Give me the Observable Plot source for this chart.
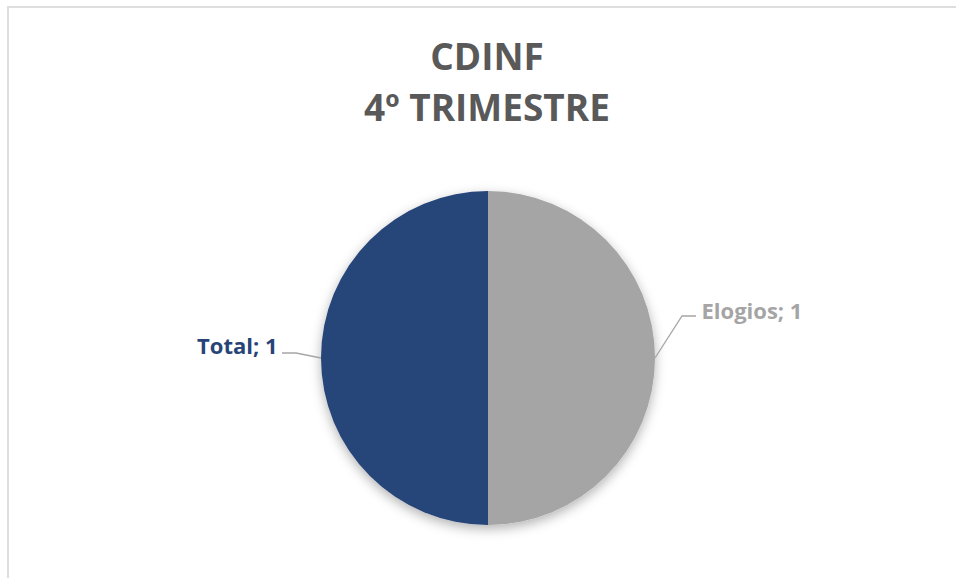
<!DOCTYPE html>
<html>
<head>
<meta charset="utf-8">
<script src="https://cdn.jsdelivr.net/npm/d3@7"></script>
<script src="https://cdn.jsdelivr.net/npm/@observablehq/plot@0.6"></script>
<style>
  html, body { margin: 0; padding: 0; background: #fff; }
  #wrap { position: relative; width: 956px; height: 578px; overflow: hidden; font-family: "Open Sans", sans-serif; }
  #frame { position: absolute; left: 7px; top: 6px; width: 1000px; height: 1000px; border: 2px solid #dedede; box-sizing: border-box; }
  #title { position: absolute; left: 0; top: 30px; width: 974px; text-align: center; color: #595959; font-weight: bold; font-size: 37px; line-height: 51px; }
  #chart { position: absolute; left: 0; top: 0; }
</style>
</head>
<body>
<div id="wrap">
  <div id="frame"></div>
  <div id="title">CDINF<br>4º TRIMESTRE</div>
  <div id="chart"></div>
</div>
<script>
const categories = ["Elogios", "Total"];
const values = [1, 1];
const colors = ["#a5a5a5", "#264478"];

const rows = categories.map((c, i) => ({cat: c, value: values[i]}));
const arcs = d3.pie().sort(null).value(d => d.value)(rows);
arcs.forEach(a => { a.data.mid = (a.startAngle + a.endAngle) / 2; });

const pieMark = (index, scales) => {
  const cx = scales.x(0), cy = scales.y(0), r = scales.x(1) - scales.x(0);
  const g = d3.create("svg:g");
  const defs = g.append("defs");
  const f = defs.append("filter").attr("id", "pieShadow").attr("x", "-20%").attr("y", "-20%").attr("width", "140%").attr("height", "140%");
  f.append("feDropShadow").attr("dx", 0).attr("dy", 4).attr("stdDeviation", 6).attr("flood-color", "#000").attr("flood-opacity", 0.3);
  const pg = g.append("g").attr("transform", `translate(${cx},${cy})`).attr("filter", "url(#pieShadow)");
  pg.selectAll("path").data(arcs).join("path")
    .attr("d", d3.arc().innerRadius(0).outerRadius(r))
    .attr("fill", d => scales.color(d.data.cat));
  // leader lines
  const lg = g.append("g").attr("fill", "none").attr("stroke", "#a6a6a6").attr("stroke-width", 1.3);
  arcs.forEach(a => {
    const ax = scales.x(Math.sin(a.data.mid)), ay = scales.y(Math.cos(a.data.mid));
    const right = Math.sin(a.data.mid) > 0;
    const d = right ? `M${ax},${ay}l27,-42h14` : `M${ax},${ay}l-25,-5h-14`;
    lg.append("path").attr("d", d);
  });
  return g.node();
};

const labelOpts = (side) => ({
  x: d => Math.sin(d.mid),
  y: d => Math.cos(d.mid),
  text: d => `${d.cat}; ${d.value}`,
  fill: "cat",
  fontSize: 22,
  fontWeight: "bold",
  textAnchor: side === "right" ? "start" : "end",
  dx: side === "right" ? 46 : -44,
  dy: side === "right" ? -47 : -12,
  filter: d => side === "right" ? Math.sin(d.mid) > 0 : Math.sin(d.mid) < 0
});

const chart = Plot.plot({
  width: 956,
  height: 578,
  marginLeft: 321,
  marginRight: 301,
  marginTop: 191,
  marginBottom: 53,
  x: {domain: [-1, 1], axis: null},
  y: {domain: [-1, 1], axis: null},
  color: {domain: categories, range: colors},
  style: {background: "transparent", overflow: "visible", fontFamily: "Open Sans, sans-serif"},
  marks: [
    pieMark,
    Plot.text(rows, labelOpts("right")),
    Plot.text(rows, labelOpts("left"))
  ]
});
document.getElementById("chart").appendChild(chart);
</script>
</body>
</html>
